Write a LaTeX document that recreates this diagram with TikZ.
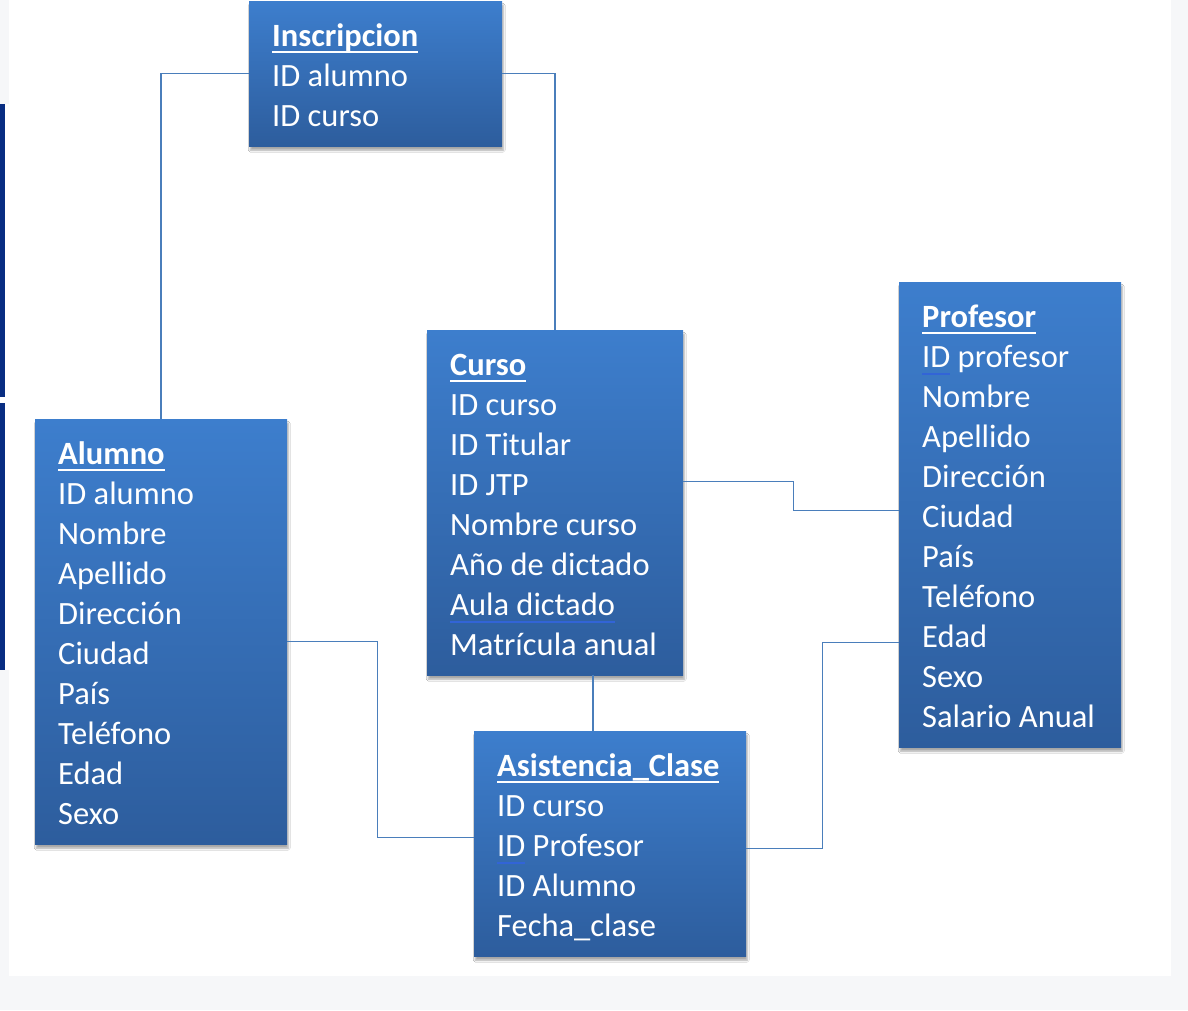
\documentclass[tikz,border=0pt]{standalone}
\usepackage{fontspec}
\setmainfont{Carlito}
\usetikzlibrary{positioning, shadows.blur}
\definecolor{azultop}{RGB}{61,126,205}
\definecolor{azulbot}{RGB}{45,93,157}
\definecolor{linea}{RGB}{74,126,187}
\definecolor{fondo}{RGB}{246,247,249}
\definecolor{barra}{RGB}{8,45,130}
\definecolor{marca}{RGB}{50,100,215}
\newcommand{\titulo}[1]{\leavevmode\textbf{\setbox0\hbox{#1}\rlap{\rule[-6.5pt]{\wd0}{2pt}}\box0\relax}}
\newcommand{\revisar}[1]{\leavevmode\setbox0\hbox{#1}\rlap{\color{marca}\rule[-7.5pt]{\wd0}{1.5pt}}\box0\relax}
\tikzset{
tabla/.style={rectangle, anchor=north west, top color=azultop, bottom color=azulbot, text=white, inner xsep=23pt, inner ysep=8pt, font={\fontsize{32.5}{40}\selectfont}, blur shadow={shadow xshift=1pt, shadow yshift=-4pt, shadow opacity=35, shadow blur steps=6}, execute at begin node={\spaceskip=0pt \xspaceskip=0pt \rightskip=0pt plus 1fil \hyphenpenalty=10000 \noindent\rule{0pt}{37pt}}, execute at end node=\rule[-12pt]{0pt}{12pt}}, % the boxes of the tables
conector/.style={draw=linea, line width=1.5pt}, % the lines between tables
}
\begin{document}
\begin{tikzpicture}[x=1pt, y=-1pt]
    \useasboundingbox (0,0) rectangle (1188,1010);
    \fill[fondo] (0,0) rectangle (1188,1010);
    \fill[white] (9,0) rectangle (1171,976);
    \fill[white] (0,104) rectangle (9,670);
    \fill[barra] (0,104) rectangle (5,397);
    \fill[barra] (0,403) rectangle (5,670);

    \node[tabla, text width=207pt] (insc) at (249,1) {\titulo{Inscripcion}\\ ID alumno\\ ID curso};
    \node[tabla, text width=206pt] (alum) at (35,419) {\titulo{Alumno}\\ ID alumno\\ Nombre\\ Apellido\\ Dirección\\ Ciudad\\ País\\ Teléfono\\ Edad\\ Sexo};
    \node[tabla, text width=210pt] (curso) at (427,330) {\titulo{Curso}\\ ID curso\\ ID Titular\\ ID JTP\\ Nombre curso\\ Año de dictado\\ \revisar{Aula dictado}\\ Matrícula anual};
    \node[tabla, text width=176pt] (prof) at (899,282) {\titulo{Profesor}\\ \revisar{ID} profesor\\ Nombre\\ Apellido\\ Dirección\\ Ciudad\\ País\\ Teléfono\\ Edad\\ Sexo\\ Salario Anual};
    \node[tabla, text width=226pt] (asis) at (474,731) {\titulo{Asistencia\_Clase}\\ ID curso\\ \revisar{ID} Profesor\\ ID Alumno\\ Fecha\_clase};

    \draw[conector] (insc.west) -| (alum.north)
    (insc.east) -| (curso.north)
    ([yshift=21pt]curso.east) -- ++(110,0) |- ([yshift=4pt]prof.west)
    ([xshift=38pt]curso.south) -- ([xshift=38pt]curso.south |- asis.north)
    ([yshift=-10pt]alum.east) -- ++(90,0) |- ([yshift=6pt]asis.west)
    ([yshift=-5pt]asis.east) -- ++(76,0) |- ([yshift=-128pt]prof.west);
\end{tikzpicture}
\end{document}
